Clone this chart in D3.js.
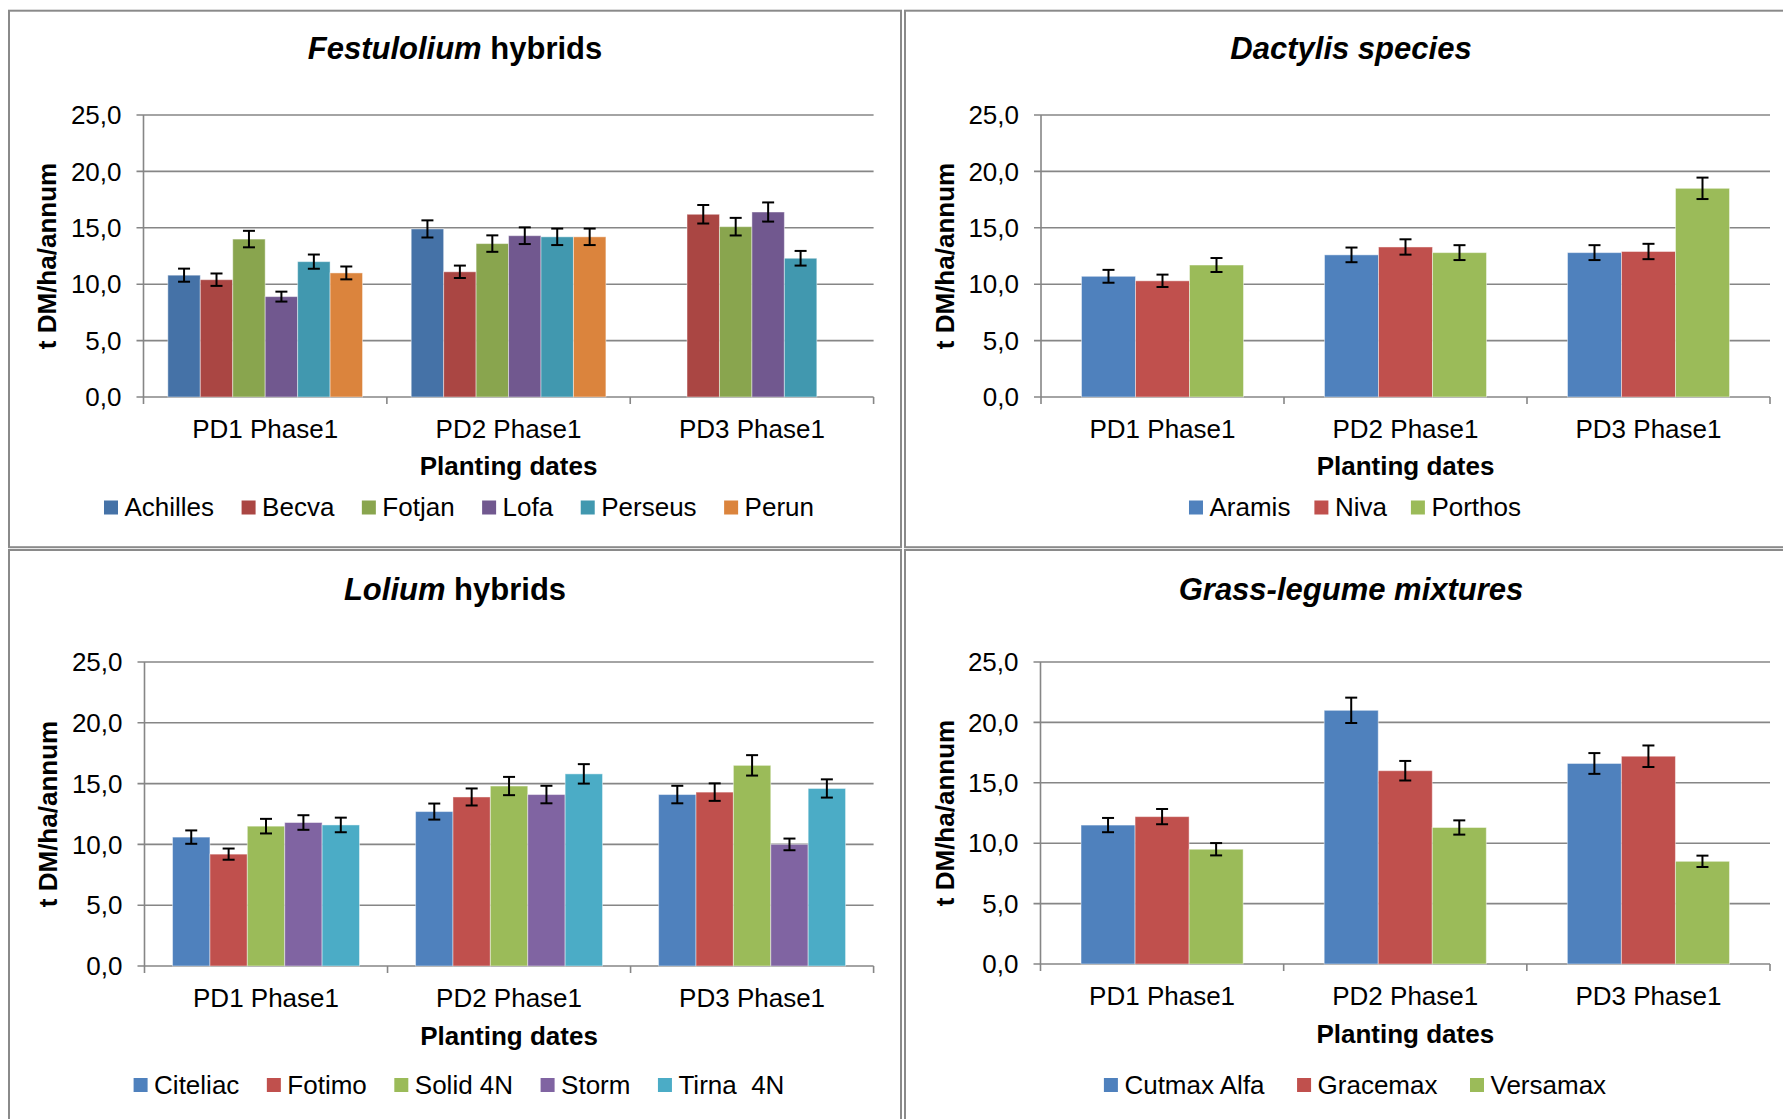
<!DOCTYPE html>
<html>
<head>
<meta charset="utf-8">
<script src="https://cdn.jsdelivr.net/npm/d3@7"></script>
<style>
  body { margin: 0; background: #fff; }
  svg { display: block; font-family: "Liberation Sans", Arial, sans-serif; }
</style>
</head>
<body>
<div id="chart"></div>
<script>
// shared axes
const categories = ['PD1 Phase1', 'PD2 Phase1', 'PD3 Phase1'];
const yTicks = [0, 5, 10, 15, 20, 25];

// Festulolium hybrids (values per series across PD1..PD3)
const festuloliumSeries = ['Achilles', 'Becva', 'Fotjan', 'Lofa', 'Perseus', 'Perun'];
const festuloliumValues = [
  [10.8, 14.9, null],
  [10.4, 11.1, 16.2],
  [14.0, 13.6, 15.1],
  [8.9, 14.3, 16.4],
  [12.0, 14.2, 12.3],
  [11.0, 14.2, null]
];
const festuloliumErrors = [
  [0.58, 0.76, 0],
  [0.55, 0.55, 0.82],
  [0.73, 0.73, 0.78],
  [0.44, 0.74, 0.85],
  [0.63, 0.73, 0.65],
  [0.57, 0.73, 0]
];

// Dactylis species
const dactylisSeries = ['Aramis', 'Niva', 'Porthos'];
const dactylisValues = [
  [10.7, 12.6, 12.8],
  [10.3, 13.3, 12.9],
  [11.7, 12.8, 18.5]
];
const dactylisErrors = [
  [0.57, 0.65, 0.66],
  [0.55, 0.68, 0.68],
  [0.62, 0.66, 0.95]
];

// Lolium hybrids
const loliumSeries = ['Citeliac', 'Fotimo', 'Solid 4N', 'Storm', 'Tirna  4N'];
const loliumValues = [
  [10.6, 12.7, 14.1],
  [9.2, 13.9, 14.3],
  [11.5, 14.8, 16.5],
  [11.8, 14.1, 10.0],
  [11.6, 15.8, 14.6]
];
const loliumErrors = [
  [0.55, 0.66, 0.72],
  [0.46, 0.70, 0.72],
  [0.60, 0.75, 0.84],
  [0.60, 0.72, 0.48],
  [0.60, 0.80, 0.75]
];

// Grass-legume mixtures
const grassSeries = ['Cutmax Alfa', 'Gracemax', 'Versamax'];
const grassValues = [
  [11.5, 21.0, 16.6],
  [12.2, 16.0, 17.2],
  [9.5, 11.3, 8.5]
];
const grassErrors = [
  [0.59, 1.05, 0.86],
  [0.63, 0.81, 0.89],
  [0.51, 0.59, 0.47]
];

const paletteDark = ['#4572A7', '#AA4643', '#89A54E', '#71588F', '#4198AF', '#DB843D'];
const paletteStd = ['#4F81BD', '#C0504D', '#9BBB59', '#8064A2', '#4BACC6'];

const W = 1783, H = 1119;
const svg = d3.select('#chart').append('svg')
    .attr('width', W)
    .attr('height', H);

const fmt = d3.formatLocale({decimal: ',', thousands: '.', grouping: [3], currency: ['', '']}).format('.1f');

const panels = [
  {
    title: [['Festulolium', true], [' hybrids', false]],
    series: festuloliumSeries, values: festuloliumValues, errors: festuloliumErrors, colors: paletteDark,
    box: [9, 10.7, 892, 536.5],
    plot: {left: 143.5, right: 873.6, top: 115, bottom: 397},
    titleY: 59, tickY: 437.5, xTitleY: 475, legendY: 516, yTitleX: 56, legendGap: 27.5
  },
  {
    title: [['Dactylis species', true]],
    series: dactylisSeries, values: dactylisValues, errors: dactylisErrors, colors: paletteStd,
    box: [905, 10.7, 892, 536.5],
    plot: {left: 1041, right: 1770, top: 115, bottom: 397},
    titleY: 59, tickY: 437.5, xTitleY: 475, legendY: 516, yTitleX: 954, legendGap: 24
  },
  {
    title: [['Lolium', true], [' hybrids', false]],
    series: loliumSeries, values: loliumValues, errors: loliumErrors, colors: paletteStd,
    box: [9, 550, 892, 600],
    plot: {left: 144.5, right: 873.6, top: 662, bottom: 966},
    titleY: 599.7, tickY: 1006.5, xTitleY: 1045, legendY: 1093.5, yTitleX: 56.5, legendGap: 27.5
  },
  {
    title: [['Grass-legume mixtures', true]],
    series: grassSeries, values: grassValues, errors: grassErrors, colors: paletteStd,
    box: [905, 550, 892, 600],
    plot: {left: 1040.5, right: 1770, top: 662, bottom: 964},
    titleY: 599.7, tickY: 1004.5, xTitleY: 1042.5, legendY: 1093.5, yTitleX: 954, legendGap: 32.5
  }
];

panels.forEach(drawPanel);

function drawPanel(p) {
  const g = svg.append('g');
  const [bx, by, bw, bh] = p.box;
  const cx = bx + bw / 2;

  g.append('rect')
      .attr('x', bx).attr('y', by)
      .attr('width', bw).attr('height', bh)
      .attr('fill', '#fff')
      .attr('stroke', '#8a8a8a')
      .attr('stroke-width', 2);

  // title
  const title = g.append('text')
      .attr('x', cx).attr('y', p.titleY)
      .attr('text-anchor', 'middle')
      .attr('font-size', 31)
      .attr('font-weight', 'bold');
  p.title.forEach(([t, it]) => {
    title.append('tspan').text(t).attr('font-style', it ? 'italic' : 'normal');
  });

  const y = d3.scaleLinear().domain([0, 25]).range([p.plot.bottom, p.plot.top]);
  const x0 = d3.scaleBand().domain(categories).range([p.plot.left, p.plot.right]).padding(0);
  const x1 = d3.scaleBand().domain(d3.range(p.series.length))
      .range([0, x0.bandwidth()]).paddingInner(0).paddingOuter(0.75);

  // gridlines
  g.append('g').selectAll('line')
      .data(yTicks)
      .join('line')
      .attr('x1', p.plot.left - 7).attr('x2', p.plot.right)
      .attr('y1', d => y(d)).attr('y2', d => y(d))
      .attr('stroke', '#868686')
      .attr('stroke-width', 1.6);

  // y axis line
  g.append('line')
      .attr('x1', p.plot.left).attr('x2', p.plot.left)
      .attr('y1', y(25)).attr('y2', y(0) + 7)
      .attr('stroke', '#868686').attr('stroke-width', 1.6);

  // category tick marks
  const bounds = categories.map(c => x0(c)).concat([p.plot.right]);
  g.append('g').selectAll('line')
      .data(bounds.slice(1))
      .join('line')
      .attr('x1', d => d).attr('x2', d => d)
      .attr('y1', y(0)).attr('y2', y(0) + 7)
      .attr('stroke', '#868686').attr('stroke-width', 1.6);

  // y tick labels
  g.append('g').selectAll('text')
      .data(yTicks)
      .join('text')
      .attr('x', p.plot.left - 22)
      .attr('y', d => y(d))
      .attr('dy', '0.35em')
      .attr('text-anchor', 'end')
      .attr('font-size', 26)
      .text(d => fmt(d));

  // bars
  p.series.forEach((s, i) => {
    const sg = g.append('g');
    const rows = categories.map((c, j) => ({c, v: p.values[i][j], e: p.errors[i][j]}))
        .filter(d => d.v != null);
    sg.selectAll('rect')
        .data(rows)
        .join('rect')
        .attr('x', d => x0(d.c) + x1(i))
        .attr('y', d => y(d.v))
        .attr('width', x1.bandwidth())
        .attr('height', d => y(0) - y(d.v))
        .attr('fill', p.colors[i])
        .attr('stroke', 'rgba(255,255,255,0.45)')
        .attr('stroke-width', 1);

    const eb = sg.selectAll('g.err')
        .data(rows)
        .join('g')
        .attr('class', 'err')
        .attr('stroke', '#000')
        .attr('stroke-width', 2);
    const mid = d => x0(d.c) + x1(i) + x1.bandwidth() / 2;
    eb.append('line')
        .attr('x1', mid).attr('x2', mid)
        .attr('y1', d => y(d.v + d.e)).attr('y2', d => y(d.v - d.e));
    eb.append('line')
        .attr('x1', d => mid(d) - 6).attr('x2', d => mid(d) + 6)
        .attr('y1', d => y(d.v + d.e)).attr('y2', d => y(d.v + d.e));
    eb.append('line')
        .attr('x1', d => mid(d) - 6).attr('x2', d => mid(d) + 6)
        .attr('y1', d => y(d.v - d.e)).attr('y2', d => y(d.v - d.e));
  });

  // category labels
  g.append('g').selectAll('text')
      .data(categories)
      .join('text')
      .attr('x', d => x0(d) + x0.bandwidth() / 2)
      .attr('y', p.tickY)
      .attr('text-anchor', 'middle')
      .attr('font-size', 26)
      .text(d => d);

  // axis titles
  const plotMid = (p.plot.left + p.plot.right) / 2;
  g.append('text')
      .attr('x', plotMid).attr('y', p.xTitleY)
      .attr('text-anchor', 'middle')
      .attr('font-size', 26)
      .attr('font-weight', 'bold')
      .text('Planting dates');

  g.append('text')
      .attr('transform', 'translate(' + p.yTitleX + ',' + ((p.plot.top + p.plot.bottom) / 2) + ') rotate(-90)')
      .attr('text-anchor', 'middle')
      .attr('font-size', 26)
      .attr('font-weight', 'bold')
      .text('t DM/ha/annum');

  // legend
  const lg = g.append('g');
  const items = lg.selectAll('g')
      .data(p.series)
      .join('g');
  items.append('rect')
      .attr('width', 14).attr('height', 14)
      .attr('y', p.legendY - 15.5)
      .attr('fill', (d, i) => p.colors[i]);
  items.append('text')
      .attr('x', 20.5)
      .attr('y', p.legendY)
      .attr('font-size', 26)
      .style('white-space', 'pre')
      .text(d => d);

  let offset = 0;
  const widths = [];
  items.each(function() {
    const w = 20.5 + d3.select(this).select('text').node().getComputedTextLength();
    widths.push(w);
  });
  const total = d3.sum(widths) + p.legendGap * (widths.length - 1);
  let lx = cx + 4 - total / 2;
  items.attr('transform', (d, i) => {
    const t = 'translate(' + lx + ',0)';
    lx += widths[i] + p.legendGap;
    return t;
  });
}
</script>
</body>
</html>
